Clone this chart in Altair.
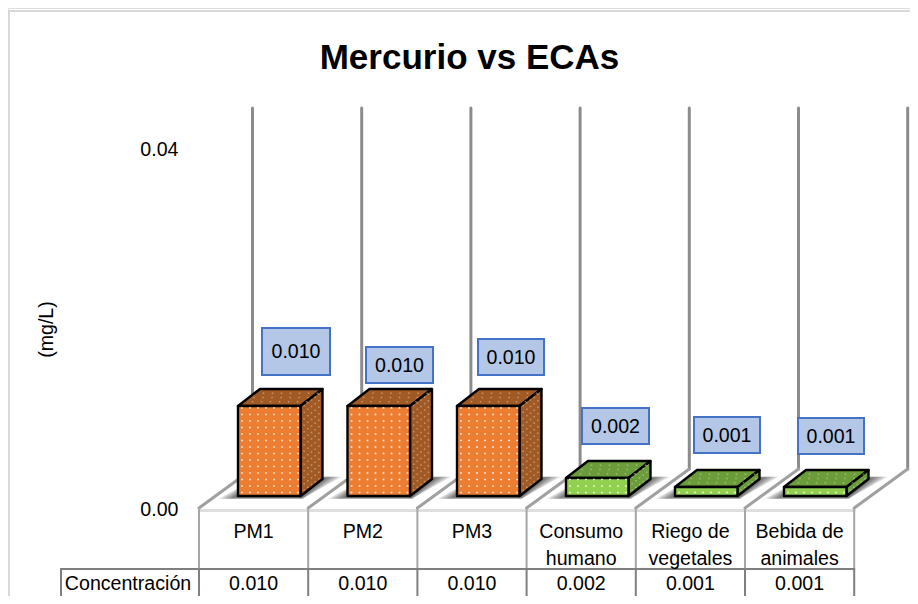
import altair as alt
import pandas as pd

# ---------- chart values ----------
CATEGORIES = ["PM1", "PM2", "PM3", "Consumo\nhumano", "Riego de\nvegetales", "Bebida de\nanimales"]
VALUES = [0.010, 0.010, 0.010, 0.002, 0.001, 0.001]
VALUE_LABELS = ["0.010", "0.010", "0.010", "0.002", "0.001", "0.001"]
FACE_COLORS = ["#ED7D31", "#ED7D31", "#ED7D31", "#92D050", "#92D050", "#92D050"]
SHADE_COLORS = ["#A15A24", "#A15A24", "#A15A24", "#6B9C3A", "#6B9C3A", "#6B9C3A"]
ROW_TITLE = "Concentración"
TITLE = "Mercurio vs ECAs"
AXIS_TITLE = "(mg/L)"

# ---------- layout (page pixels) ----------
W, H = 902, 588
X0, STEP = 199.0, 109.2       # first category edge, category width
Y0, PX_PER = 509.0, 9000.0    # front floor edge, pixels per mg/L
BAR_LEFT = [238, 347.5, 457, 566, 675, 784]
BAR_W = 62.5
BAR_BASE = 496
DX, DY = 22, 17               # bar depth
WALL_DX, WALL_DY = 53.5, 40   # floor depth
LABEL_BOX = [(262, 330, 328, 375), (366, 433, 347, 383), (478, 544, 339, 375),
             (582, 649, 408, 444), (694, 760, 417, 453), (798, 864, 418, 454)]
FONT = "Liberation Sans"
FS = 19.6

def ux(p):
    return (p - X0) / STEP

def uy(p):
    return (Y0 - p) / PX_PER

XS = alt.Scale(domain=[ux(8), ux(8 + W)], nice=False, zero=False)
YS = alt.Scale(domain=[uy(8 + H), uy(8)], nice=False, zero=False)

yaxis = alt.Axis(values=[0.0, 0.04], format=".2f", domain=False, ticks=False, grid=False,
                 labelFont=FONT, labelFontSize=FS, labelColor="#000000", labelPadding=0,
                 offset=-170, title=AXIS_TITLE, titleFont=FONT, titleFontSize=FS,
                 titleFontWeight="normal", titleColor="#000000", titleAngle=-90,
                 titleX=-122, titleY=321)

def X(f="x"):
    return alt.X(f + ":Q", scale=XS, axis=None)

def Y(f="y"):
    return alt.Y(f + ":Q", scale=YS, axis=yaxis)

def rules(rows, color, width):
    df = pd.DataFrame([dict(x=ux(a), y=uy(b), x2=ux(c), y2=uy(d)) for a, b, c, d in rows])
    return alt.Chart(df).mark_rule(color=color, strokeWidth=width, strokeCap="round").encode(
        x=X(), y=Y(), x2="x2:Q", y2="y2:Q")

edges = [X0 + STEP * i for i in range(7)]

layers = [
    # chart frame
    rules([(9, 11, 930, 11), (9, 11, 9, 620)], "#D9D9D9", 2),
    # back wall lines
    rules([(e + WALL_DX, 108, e + WALL_DX, Y0 - WALL_DY) for e in edges], "#8C8C8C", 3),
    # floor
    rules([(edges[0], 510.5, edges[-1], 510.5)], "#DEDEDE", 3),
    rules([(e, Y0 - 1, e + WALL_DX, Y0 - WALL_DY) for e in edges], "#A0A0A0", 3),
    # table
    rules([(e, 510, e, 569) for e in edges], "#A6A6A6", 2),
    rules([(61, 569, edges[-1], 569), (61, 569, 61, 620)] + [(e, 569, e, 620) for e in edges], "#7F7F7F", 2),
]

# soft floor shadows
rows = []
for i, left in enumerate(BAR_LEFT):
    for k, e in enumerate([19, 16, 13, 10, 7, 4, 1]):
        rid = f"{i}-{k}"
        rows.append(dict(id=rid, y=uy(BAR_BASE + min(e, 9) * 0.3), x=ux(left - e), x2=ux(left + BAR_W + 2)))
        rows.append(dict(id=rid, y=uy(BAR_BASE - DY - min(e, 9) * 0.25), x=ux(left + DX - 2), x2=ux(left + BAR_W + DX + e)))
layers.append(alt.Chart(pd.DataFrame(rows)).mark_area(orient="horizontal", color="#303030", opacity=0.16).encode(
    y=Y(), x=X(), x2="x2:Q", detail="id:N"))

# bars: top and side faces, front face
top, side, front = [], [], []
for i, (v, left) in enumerate(zip(VALUES, BAR_LEFT)):
    base = uy(BAR_BASE)
    xl, xr = ux(left), ux(left + BAR_W)
    xl2, xr2 = ux(left + DX), ux(left + BAR_W + DX)
    d = DY / PX_PER
    c = SHADE_COLORS[i]
    top.append(dict(id=i, c=c, y=base + v, x=xl, x2=xr))
    top.append(dict(id=i, c=c, y=base + v + d, x=xl2, x2=xr2))
    side.append(dict(id=i, c=c, x=xr, y=base, y2=base + v))
    side.append(dict(id=i, c=c, x=xr2, y=base + d, y2=base + v + d))
    front.append(dict(id=i, c=FACE_COLORS[i], x=xl, x2=xr, y=base, y2=base + v))

stroke = dict(stroke="#000000", strokeWidth=2.4, strokeJoin="round")
layers.append(alt.Chart(pd.DataFrame(top)).mark_area(orient="horizontal", **stroke).encode(
    y=Y(), x=X(), x2="x2:Q", fill=alt.Fill("c:N", scale=None), detail="id:N"))
layers.append(alt.Chart(pd.DataFrame(side)).mark_area(**stroke).encode(
    x=X(), y=Y(), y2="y2:Q", fill=alt.Fill("c:N", scale=None), detail="id:N"))
layers.append(alt.Chart(pd.DataFrame(front)).mark_rect(**stroke).encode(
    x=X(), x2="x2:Q", y=Y(), y2="y2:Q", fill=alt.Fill("c:N", scale=None)))

# dotted texture of the faces
fd, sd = [], []
for v, left in zip(VALUES, BAR_LEFT):
    hpx = v * PX_PER
    ry = BAR_BASE - 3.5
    while ry > BAR_BASE - hpx + 1:
        for cx in range(0, 8):
            px = left + 4 + cx * 8
            if px < left + BAR_W - 2:
                fd.append(dict(x=ux(px), y=uy(ry)))
        ry -= 6.5
    # side face
    for a in range(1, 6):
        ry = BAR_BASE - 3
        while ry > BAR_BASE - hpx + 1:
            t = a / 6
            sd.append(dict(x=ux(left + BAR_W + DX * t), y=uy(ry - DY * t)))
            ry -= 6.5
    # top face
    for a in range(1, 4):
        t = a / 4
        for cx in range(0, 7):
            sd.append(dict(x=ux(left + 5 + cx * 9 + (a % 2) * 4 + DX * t), y=uy(BAR_BASE - hpx - DY * t)))
layers.append(alt.Chart(pd.DataFrame(fd)).mark_point(filled=True, shape="square", size=3, color="#FFFFFF", opacity=0.85).encode(x=X(), y=Y()))
layers.append(alt.Chart(pd.DataFrame(sd)).mark_point(filled=True, shape="square", size=2.5, color="#E8D8C8", opacity=0.45).encode(x=X(), y=Y()))

# data labels
boxes = pd.DataFrame([dict(x=ux(a), x2=ux(b), y=uy(c), y2=uy(d),
                           tx=ux((a + b) / 2), ty=uy((c + d) / 2 + 0.5), t=s)
                      for (a, b, c, d), s in zip(LABEL_BOX, VALUE_LABELS)])
layers.append(alt.Chart(boxes).mark_rect(fill="#B4C7E7", stroke="#4472C4", strokeWidth=2).encode(
    x=X(), x2="x2:Q", y=Y(), y2="y2:Q"))
layers.append(alt.Chart(boxes).mark_text(font=FONT, fontSize=FS, color="#000000", baseline="middle").encode(
    x=X("tx"), y=Y("ty"), text="t:N"))

# category labels and table row
cats = pd.DataFrame(dict(x=[ux(e + STEP / 2) for e in edges[:-1]], y=[uy(537.5)] * 6, t=CATEGORIES))
layers.append(alt.Chart(cats).mark_text(font=FONT, fontSize=FS, color="#000000", lineBreak="\n", lineHeight=27,
                                        baseline="alphabetic").encode(x=X(), y=Y(), text="t:N"))
row = pd.DataFrame(dict(x=[ux(128)] + [ux(e + STEP / 2) for e in edges[:-1]], y=[uy(584)] * 7,
                        t=[ROW_TITLE] + VALUE_LABELS))
layers.append(alt.Chart(row).mark_text(font=FONT, fontSize=FS, color="#000000", baseline="middle").encode(
    x=X(), y=Y(), text="t:N"))

chart = alt.layer(*layers).properties(
    width=W, height=H,
    padding=0,
    autosize=alt.AutoSizeParams(type="none"),
    title=alt.TitleParams(TITLE, font=FONT, fontSize=35, fontWeight="bold", color="#000000",
                          anchor="middle", dx=10.5, offset=-68),
).configure_view(stroke=None).configure(background="#FFFFFF")

chart.save("out.html", embed_options={"renderer": "svg", "actions": False})
